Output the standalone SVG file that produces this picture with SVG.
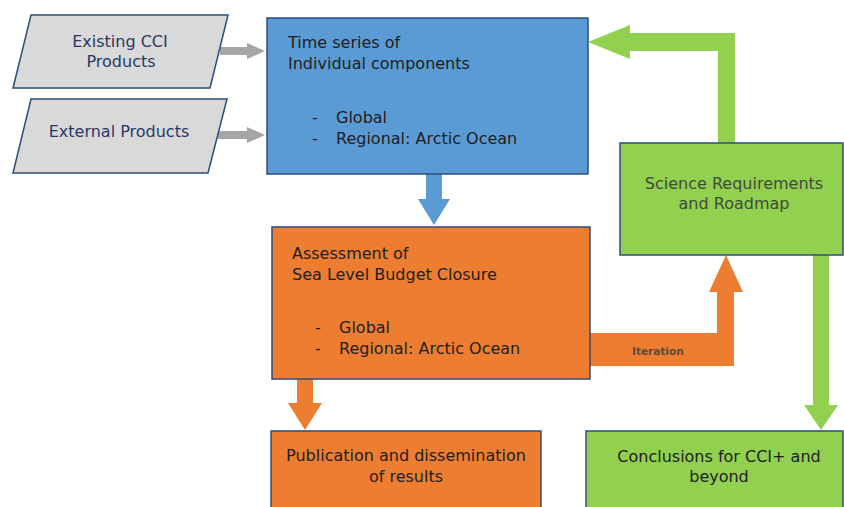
<svg xmlns="http://www.w3.org/2000/svg" width="844" height="507" viewBox="0 0 844 507">
<style>
text { font-family: "DejaVu Sans", Verdana, sans-serif; font-size: 16px; }
.box { stroke: #2F4B7C; stroke-width: 1.5; }
.blue { fill: #5B9BD5; }
.orange { fill: #ED7D31; }
.green { fill: #92D050; }
.gray { fill: #D9D9D9; }
.t-in { fill: #2A3866; }
.t-dark { fill: #1E1E1E; }
.t-green { fill: #3F4A36; }
.mid { text-anchor: middle; }
.it { font-size: 10.5px; font-weight: bold; fill: #5E4A3A; }
</style>
<rect width="844" height="507" fill="#FFFFFF"/>
<g id="connectors">
  <polygon fill="#A6A6A6" points="220,47 247,47 247,43 265,51 247,59 247,55 220,55"/>
  <polygon fill="#A6A6A6" points="218,131 247,131 247,127 265,135 247,143 247,139 218,139"/>
  <polygon fill="#5B9BD5" points="426,174 442,174 442,199 450,199 434,225 418,199 426,199"/>
  <polygon fill="#ED7D31" points="589,333 717,333 717,292 709,292 726,255 743,292 734,292 734,366 589,366"/>
  <polygon fill="#ED7D31" points="297,379 313,379 313,403 322,403 305,430 288,403 297,403"/>
  <polygon fill="#92D050" points="718,143 735,143 735,33 630,33 630,25 588,42 630,59 630,51 718,51"/>
  <polygon fill="#92D050" points="813,255 829,255 829,405 838,405 821,430 804,405 813,405"/>
  <text class="it" x="632" y="355">Iteration</text>
</g>
<g id="existing-cci">
  <polygon class="box gray" points="31,15 228,15 210,88 13,88"/>
  <text class="t-in mid" x="120" y="47">Existing CCI</text>
  <text class="t-in mid" x="121" y="67">Products</text>
</g>
<g id="external-products">
  <polygon class="box gray" points="31,99 227,99 208,173 13,173"/>
  <text class="t-in mid" x="119" y="137">External Products</text>
</g>
<g id="time-series">
  <rect class="box blue" x="267" y="18" width="321" height="156"/>
  <text class="t-dark" x="288" y="48">Time series of</text>
  <text class="t-dark" x="288" y="69">Individual components</text>
  <text class="t-dark" x="312" y="123">-</text>
  <text class="t-dark" x="336" y="123">Global</text>
  <text class="t-dark" x="312" y="144">-</text>
  <text class="t-dark" x="336" y="144">Regional: Arctic Ocean</text>
</g>
<g id="assessment">
  <rect class="box orange" x="272" y="227" width="318" height="152"/>
  <text class="t-dark" x="292" y="259">Assessment of</text>
  <text class="t-dark" x="292" y="280">Sea Level Budget Closure</text>
  <text class="t-dark" x="315" y="333">-</text>
  <text class="t-dark" x="339" y="333">Global</text>
  <text class="t-dark" x="315" y="354">-</text>
  <text class="t-dark" x="339" y="354">Regional: Arctic Ocean</text>
</g>
<g id="science-requirements">
  <rect class="box green" x="620" y="143" width="223" height="112"/>
  <text class="t-green mid" x="734" y="189">Science Requirements</text>
  <text class="t-green mid" x="734" y="209">and Roadmap</text>
</g>
<g id="publication">
  <rect class="box orange" x="271" y="431" width="270" height="90"/>
  <text class="t-dark mid" x="406" y="461">Publication and dissemination</text>
  <text class="t-dark mid" x="406" y="482">of results</text>
</g>
<g id="conclusions">
  <rect class="box green" x="586" y="431" width="257" height="90"/>
  <text class="t-dark mid" x="719" y="462">Conclusions for CCI+ and</text>
  <text class="t-dark mid" x="719" y="482">beyond</text>
</g>
</svg>
